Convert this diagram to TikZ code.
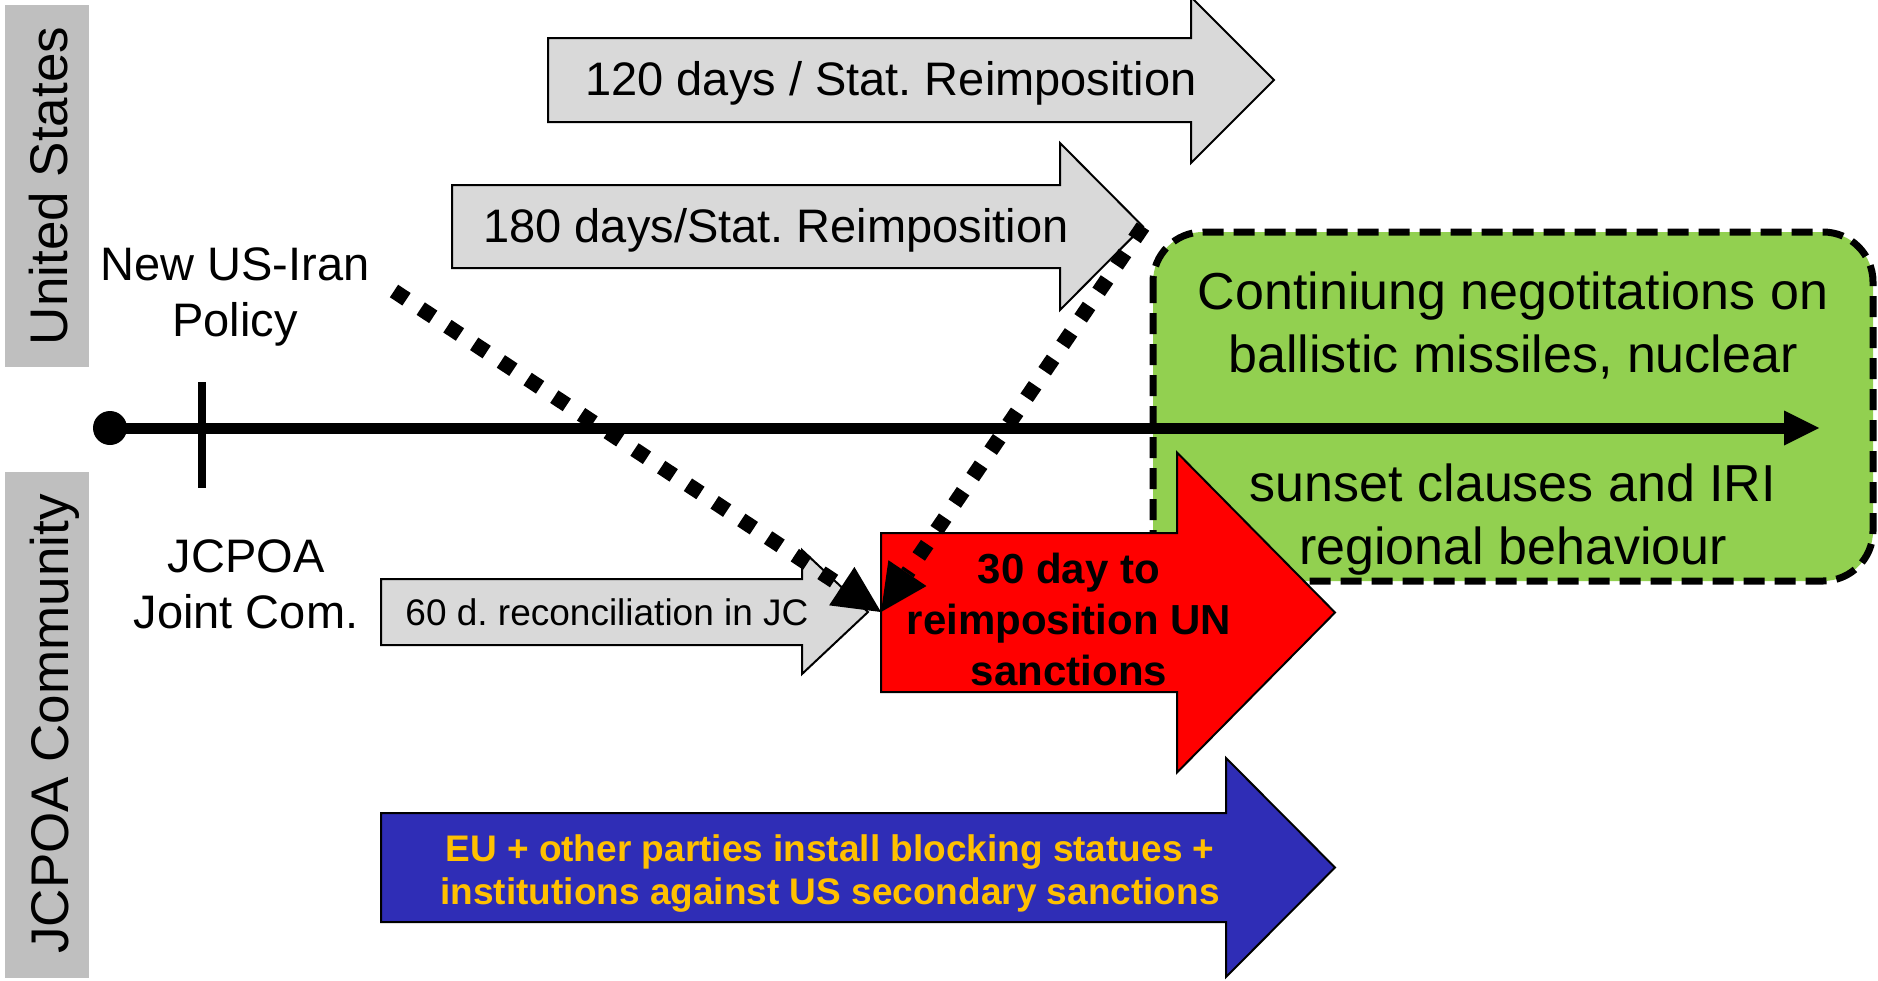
\documentclass[tikz,border=0pt]{standalone}
\usepackage{fontspec}
\setmainfont{Liberation Sans}
\usetikzlibrary{arrows.meta}
\frenchspacing

\definecolor{sidegray}{RGB}{191,191,191}
\definecolor{boxgray}{RGB}{217,217,217}
\definecolor{negogreen}{RGB}{146,208,80}
\definecolor{unred}{RGB}{255,0,0}
\definecolor{eublue}{RGB}{47,45,182}
\definecolor{eugold}{RGB}{255,192,0}

% block arrow: style, left x, top y, bottom y, head start x, head half height, tip x
\newcommand{\blockarrow}[7]{%
  \draw[#1] (#2,#3) -- (#5,#3) -- (#5,{(#3+#4)/2-#6}) -- (#7,{(#3+#4)/2})
    -- (#5,{(#3+#4)/2+#6}) -- (#5,#4) -- (#2,#4) -- cycle;}

\tikzset{
  grayarrow/.style={draw=black, line width=2pt, fill=boxgray, line join=miter},
  redarrow/.style={draw=black, line width=2pt, fill=unred, line join=miter},
  bluearrow/.style={draw=black, line width=2pt, fill=eublue, line join=miter},
  lbl/.style={inner sep=0pt, font=\fontsize{47}{56}\selectfont},
  side/.style={inner sep=0pt, font=\fontsize{53}{60}\selectfont},
  smalllbl/.style={inner sep=0pt, font=\fontsize{37}{44}\selectfont},
  redtxt/.style={inner sep=0pt, align=center, font=\fontsize{42}{51}\selectfont\bfseries},
  greentxt/.style={inner sep=0pt, align=center, font=\fontsize{52}{63}\selectfont},
  bluetxt/.style={inner sep=0pt, align=center, text=eugold, font=\fontsize{37}{43}\selectfont\bfseries},
  dottedlink/.style={line width=15pt, dash pattern=on 15pt off 17pt,
    -{Triangle[length=47pt,width=46pt,line width=0pt]}},
  timeline/.style={line width=11pt, -{Triangle[length=35pt,width=35pt,line width=0pt]}},
}

\begin{document}
\begin{tikzpicture}[x=1pt,y=-1pt]
\useasboundingbox (0,0) rectangle (1878,980);

% side bands
\fill[sidegray] (5,5) rectangle (89,367);
\fill[sidegray] (5,472) rectangle (89,978);
\node[side, rotate=90, anchor=base] (us) at (67,186) {United States};
\node[side, rotate=90, anchor=base] (community) at (68,724) {JCPOA Community};

% US statutory reimposition arrows
\blockarrow{grayarrow}{548}{38}{122}{1191}{83}{1274}
\node[lbl, anchor=base] (l120) at (891,95) {120 days / Stat. Reimposition};
\blockarrow{grayarrow}{452}{185}{268}{1060}{83.5}{1143}
\coordinate (tip180) at (1143,226.5);
\node[lbl, anchor=base] (l180) at (776,242) {180 days/Stat. Reimposition};

% continuing negotiations
\draw[fill=negogreen, line width=7pt, dash pattern=on 21pt off 10pt, rounded corners=50pt]
  (1153,232) rectangle (1873,581);
\node[greentxt] (lgreen) at (1513,424) {Continiung negotitations on\\ballistic missiles, nuclear\\[66pt]sunset clauses and IRI\\regional behaviour};

% time line
\node[circle, fill=black, inner sep=0pt, minimum size=34pt] (start) at (110,428) {};
\coordinate (tlend) at (1819,428);
\draw[timeline] (start.center) -- (tlend);
\coordinate (tickT) at (202,382);
\coordinate (tickB) at (202,488);
\draw[line width=8pt] (tickT) -- (tickB);

\node[lbl, align=center] (policy) at (235,297) {New US-Iran\\Policy};
\node[lbl, align=center] (jcom) at (246,584) {JCPOA\\Joint Com.};

% JCPOA community arrows
\blockarrow{grayarrow}{381}{579}{645}{802}{62}{868}
\node[smalllbl, anchor=base] (l60) at (607,625) {60 d. reconciliation in JC};

\blockarrow{redarrow}{881}{533}{692}{1177}{160}{1335}
\coordinate (unwest) at (881,612);
\node[redtxt] (lred) at (1069,619) {30 day to\\reimposition UN\\sanctions};

\blockarrow{bluearrow}{381}{813}{922}{1226}{109.5}{1335}
\node[bluetxt] (lblue) at (830,874) {EU + other parties install blocking statues +\\institutions against US secondary sanctions};

% triggers
\coordinate (policyout) at (394,291);
\draw[dottedlink] (policyout) -- (unwest);
\draw[dottedlink] (tip180) -- (unwest);
\end{tikzpicture}
\end{document}
